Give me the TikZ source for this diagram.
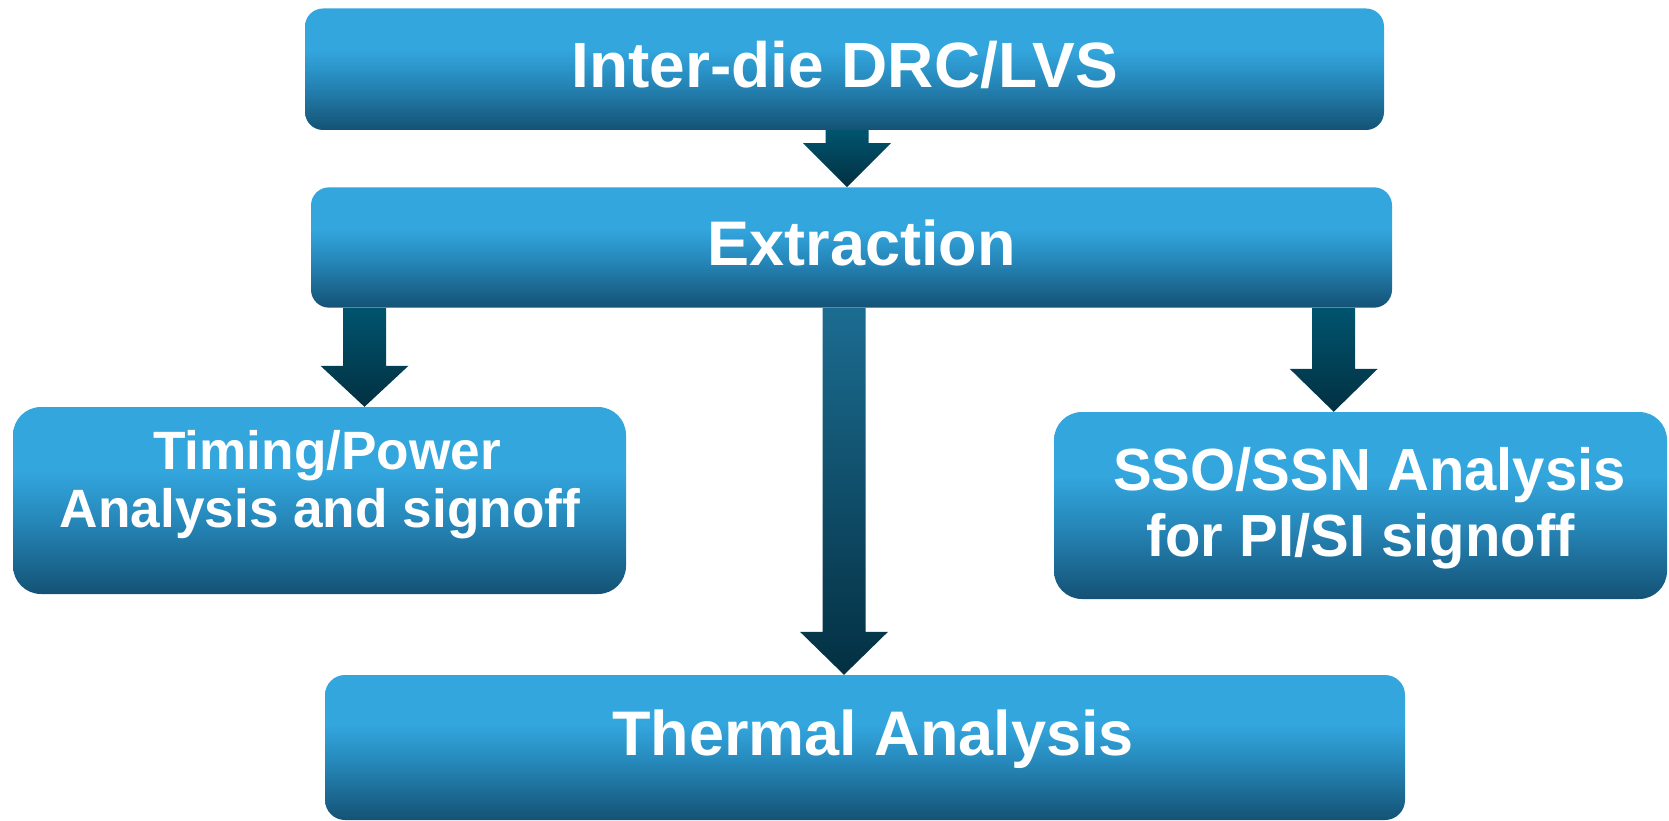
\documentclass[tikz,border=0pt]{standalone}
\usepackage{fontspec}
\setmainfont{Liberation Sans}
\usetikzlibrary{calc}
\definecolor{boxtop}{RGB}{51,166,222}
\definecolor{boxmid}{RGB}{38,136,186}
\definecolor{boxbot}{RGB}{20,82,117}
\definecolor{arrtop}{RGB}{0,84,110}
\definecolor{arrbot}{RGB}{3,48,66}
\definecolor{midtop}{RGB}{28,108,145}
\definecolor{midmid}{RGB}{6,88,120}
\pgfdeclareverticalshading{boxshade}{100bp}{color(0bp)=(boxbot); color(25bp)=(boxbot); color(45bp)=(boxmid); color(58bp)=(boxtop); color(100bp)=(boxtop)}
\tikzset{
  flowbox/.style={shading=boxshade, rounded corners=#1, inner sep=0pt},
  flowbox/.default=18pt,
  lbl/.style={text=white, font=\bfseries\fontsize{#1}{#1}\selectfont, inner sep=0pt, anchor=base},
  shortarrow/.style={top color=arrtop, bottom color=arrbot},
  longarrow/.style={top color=midtop, middle color=midmid, bottom color=arrbot}
}
% #1 style, #2 x position, #3 from node, #4 to node, #5 head length
\newcommand\blockarrow[5]{%
  \path[#1] let \p1=(#3.south), \p2=(#4.north) in
    (#2pt-21.5pt,\y1) -- (#2pt+21.5pt,\y1) -- (#2pt+21.5pt,\y2+#5pt) -- (#2pt+44pt,\y2+#5pt)
    -- (#2pt,\y2) -- (#2pt-44pt,\y2+#5pt) -- (#2pt-21.5pt,\y2+#5pt) -- cycle;}
\begin{document}
\begin{tikzpicture}[x=1pt,y=-1pt]
\useasboundingbox (0,0) rectangle (1669,821);
% boxes
\node[flowbox, minimum width=1079pt, minimum height=121.5pt] (drc) at (844.5,69.25) {};
\node[flowbox, minimum width=1081pt, minimum height=120.3pt] (ext) at (851.5,247.5) {};
\node[flowbox=28pt, minimum width=613pt, minimum height=187pt] (tim) at (319.5,500.5) {};
\node[flowbox=28pt, minimum width=613pt, minimum height=187pt] (sso) at (1360.5,505.5) {};
\node[flowbox=20pt, minimum width=1080pt, minimum height=145pt] (thm) at (865,747.5) {};
% arrows
\blockarrow{shortarrow}{847}{drc}{ext}{44}
\blockarrow{shortarrow}{364.5}{ext}{tim}{41}
\blockarrow{shortarrow}{1333.7}{ext}{sso}{43}
\blockarrow{longarrow}{844}{ext}{thm}{43}
% labels
\node[lbl=64] (tdrc) at (844.6,87.3) {Inter-die DRC/LVS};
\node[lbl=63] (text) at (861.5,265) {Extraction};
\node[lbl=54] (ttim1) at (327,469.4) {\scalebox{0.985}[1]{Timing/Power}};
\node[lbl=54] (ttim2) at (320,527) {\scalebox{0.985}[1]{Analysis and signoff}};
\node[lbl=59.5] (tsso1) at (1369.5,490.7) {\scalebox{0.975}[1]{SSO/SSN Analysis}};
\node[lbl=59.5] (tsso2) at (1360.5,556.7) {\scalebox{0.975}[1]{for PI/SI signoff}};
\node[lbl=63] (tthm) at (873,755.7) {Thermal Analysis};
\end{tikzpicture}
\end{document}
